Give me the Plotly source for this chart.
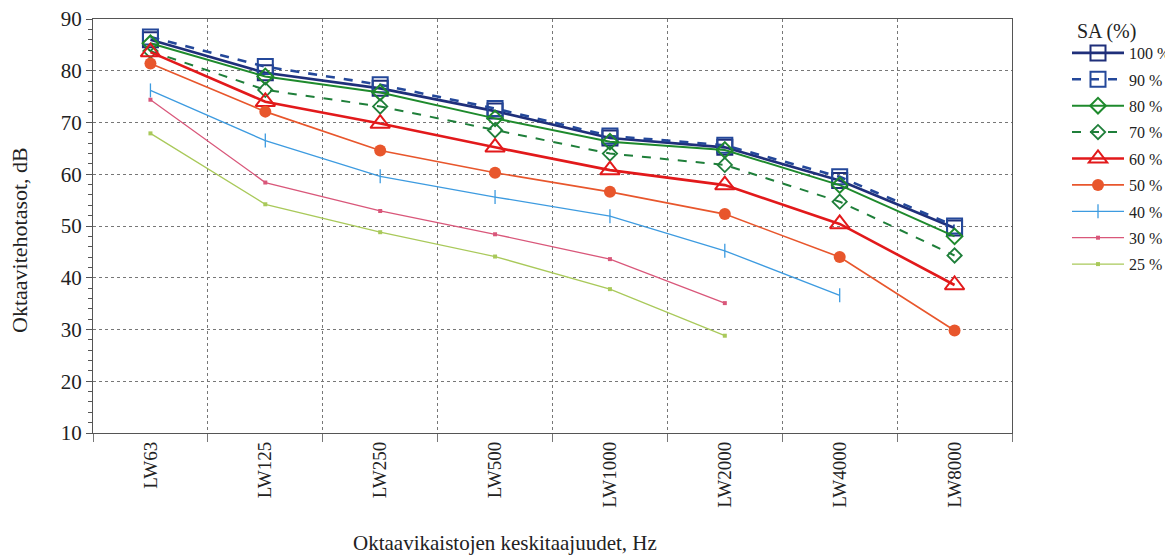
import plotly.graph_objects as go

categories = ["LW63", "LW125", "LW250", "LW500", "LW1000", "LW2000", "LW4000", "LW8000"]

sa100 = [86.0, 79.6, 76.6, 72.2, 67.0, 65.2, 58.8, 49.6]
sa90 = [86.5, 80.8, 77.3, 72.7, 67.4, 65.6, 59.5, 50.0]
sa80 = [85.3, 78.9, 75.8, 70.8, 66.3, 64.7, 57.9, 48.0]
sa70 = [83.8, 76.3, 73.1, 68.5, 64.0, 61.8, 54.7, 44.3]
sa60 = [83.6, 74.0, 69.8, 65.2, 60.8, 57.9, 50.4, 38.6]
sa50 = [81.4, 72.1, 64.6, 60.3, 56.6, 52.3, 44.0, 29.8]
sa40 = [76.2, 66.5, 59.6, 55.6, 51.9, 45.2, 36.6, None]
sa30 = [74.4, 58.4, 52.9, 48.4, 43.6, 35.1, None, None]
sa25 = [67.9, 54.2, 48.8, 44.1, 37.8, 28.8, None, None]

series_names = ["100 %", "90 %", "80 %", "70 %", "60 %", "50 %", "40 %", "30 %", "25 %"]
series_values = [sa100, sa90, sa80, sa70, sa60, sa50, sa40, sa30, sa25]

styles = [
    dict(color="#1f2f7a", width=2.6, dash="solid", symbol="square-open", size=15, mlw=2),
    dict(color="#24489a", width=2.6, dash="dash", symbol="square-open", size=15, mlw=2),
    dict(color="#1e8a2c", width=2.0, dash="solid", symbol="diamond-open", size=12, mlw=2),
    dict(color="#1f7f3a", width=2.0, dash="dash", symbol="diamond-open", size=11, mlw=1.8),
    dict(color="#e2191b", width=2.6, dash="solid", symbol="triangle-up-open", size=17, mlw=2),
    dict(color="#e8562c", width=1.6, dash="solid", symbol="circle", size=12, mlw=0),
    dict(color="#3d9be0", width=1.3, dash="solid", symbol="line-ns-open", size=10, mlw=1.3),
    dict(color="#d9577a", width=1.3, dash="solid", symbol="square", size=4, mlw=0),
    dict(color="#a9c95a", width=1.3, dash="solid", symbol="square", size=4, mlw=0),
]

fig = go.Figure()
for i, (name, vals, st) in enumerate(zip(series_names, series_values, styles)):
    fig.add_trace(go.Scatter(
        x=categories, y=vals, name=name, mode="lines+markers",
        legendgroup=f"g{i}",
        line=dict(color=st["color"], width=st["width"], dash=st["dash"]),
        marker=dict(symbol=st["symbol"], size=st["size"], color=st["color"],
                    line=dict(color=st["color"], width=st["mlw"])),
        connectgaps=False,
    ))

W, H = 1173, 558
pl, pr, pt, pb = 85, 1004, 11, 425  # plot area in figure pixels


def px2paper(x, y):
    return (x - pl) / (pr - pl), (pb - y) / (pb - pt)


serif = "Liberation Serif"
ann = []
for text, x, y, size, angle in [
    ("SA (%)", 1098, 23, 20, 0),
    ("Oktaavikaistojen keskitaajuudet, Hz", 497, 535, 21, 0),
    ("Oktaavitehotasot, dB", 12, 232, 22, -90),
]:
    ax, ay = px2paper(x, y)
    ann.append(dict(text=text, x=ax, y=ay, xref="paper", yref="paper",
                    xanchor="center", yanchor="middle", showarrow=False,
                    textangle=angle, font=dict(family=serif, size=size, color="#222")))

fig.update_layout(
    width=W, height=H,
    margin=dict(l=pl, r=W - pr, t=pt, b=H - pb, autoexpand=False),
    paper_bgcolor="white", plot_bgcolor="white",
    font=dict(family=serif, size=17, color="#222"),
    showlegend=True,
    legend=dict(
        xref="container", yref="container",
        x=1059 / W, y=1 - 28 / H, xanchor="left", yanchor="top",
        font=dict(family=serif, size=16, color="#222"),
        tracegroupgap=2.6, itemwidth=52,
        bgcolor="rgba(0,0,0,0)",
    ),
    annotations=ann,
)

fig.update_xaxes(
    type="category", range=[-0.5, 7.5], automargin=False,
    tickson="boundaries", ticks="outside", ticklen=8, tickcolor="#777",
    tickangle=-90, tickfont=dict(family=serif, size=19, color="#222"),
    ticklabeloverflow="allow",
    showgrid=True, gridcolor="#777", griddash="dot", gridwidth=1,
    showline=True, linecolor="#555", linewidth=1.2, mirror=True,
)
fig.update_yaxes(
    range=[10, 90], dtick=10, tick0=10, automargin=False,
    ticks="outside", ticklen=6, tickcolor="#555",
    tickfont=dict(family=serif, size=21, color="#222"),
    ticklabeloverflow="allow",
    showgrid=True, gridcolor="#777", griddash="dot", gridwidth=1,
    showline=True, linecolor="#555", linewidth=1.2, mirror=True,
    zeroline=False,
    minor=dict(dtick=2, ticks="outside", ticklen=4, tickcolor="#555", showgrid=False),
)

fig.write_html("out.html")
